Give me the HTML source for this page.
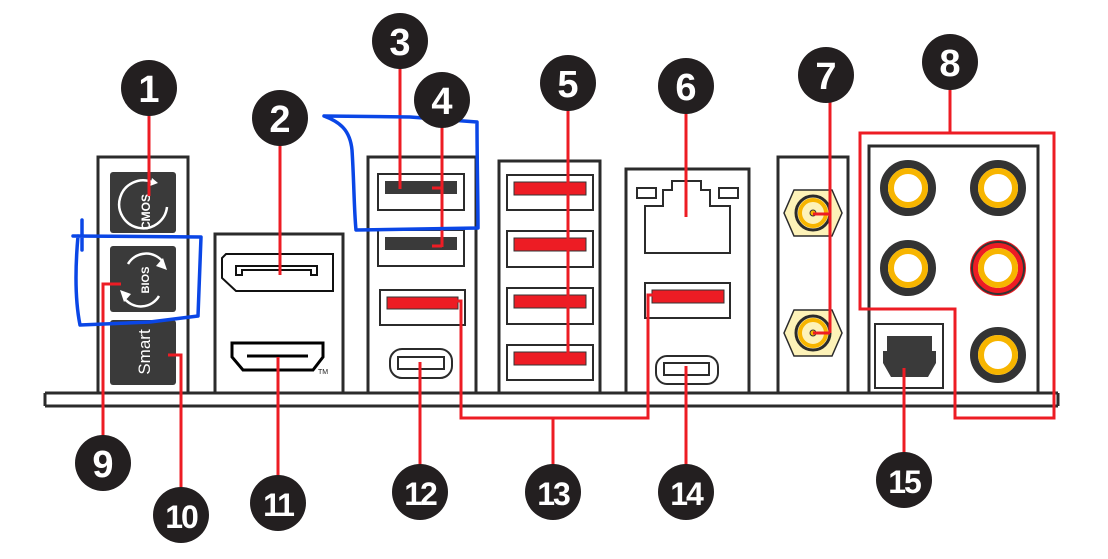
<!DOCTYPE html>
<html><head><style>body{margin:0;background:#fff}svg{display:block}</style></head><body>
<svg width="1108" height="559" viewBox="0 0 1108 559" xmlns="http://www.w3.org/2000/svg" font-family="Liberation Sans, sans-serif">
<g fill="none" stroke="#2b2b2b" stroke-width="3">
<!-- base bar -->
<path d="M45 393 H1058 M45 406 H1058 M45 393 V406 M1058 393 V406" stroke-width="3"/>
<!-- panels -->
<path d="M98 393 V157 H188 V393"/>
<path d="M215 393 V234 H343 V393"/>
<path d="M368 393 V157 H476 V393"/>
<path d="M499 393 V161 H600 V393"/>
<path d="M626 393 V169 H749 V393"/>
<path d="M778 393 V157 H848 V393"/>
<path d="M869 393 V146 H1038 V393"/>
</g>
<!-- panel 1 buttons -->
<rect x="110" y="172" width="66" height="61" rx="3" fill="#3a3a3a"/>
<rect x="110" y="246" width="66" height="66" rx="3" fill="#3a3a3a"/>
<rect x="110" y="320" width="66" height="65" rx="3" fill="#3a3a3a"/>
<g fill="none" stroke="#fff" stroke-width="2.5">
<path d="M152 182 A24 24 0 1 0 167 207"/>
<path d="M128 264 A21 21 0 0 1 163 262"/>
<path d="M159 296 A21 21 0 0 1 124 298"/>
</g>
<path d="M163 258 L167 270 L156 266Z M124 302 L120 290 L131 294Z M152 178 L158 183 L150 186Z" fill="#fff"/>
<text x="0" y="0" transform="translate(150,212) rotate(-90)" fill="#fff" font-size="12" font-weight="bold" text-anchor="middle">CMOS</text>
<text x="0" y="0" transform="translate(149,280) rotate(-90)" fill="#fff" font-size="11" font-weight="bold" text-anchor="middle">BIOS</text>
<text x="0" y="0" transform="translate(150,352) rotate(-90)" fill="#fff" font-size="17" text-anchor="middle">Smart</text>
<!-- panel 2 -->
<g fill="none" stroke="#111" stroke-width="2">
<path d="M226 254 H333 V291 H236 L222 278 V258Z"/>
<path d="M236 266 H317 V275 H311 V270 H242 V275 H236Z"/>
</g>
<path d="M232 343 H323 V357 L313 370 H243 L232 357Z" fill="none" stroke="#000" stroke-width="3"/>
<path d="M247 356 H308" stroke="#000" stroke-width="3"/>
<text x="318" y="374" font-size="7" fill="#222">TM</text>
<!-- panel 3 ports -->
<g fill="none" stroke="#2b2b2b" stroke-width="2">
<rect x="378" y="174" width="86" height="36"/>
<rect x="378" y="230" width="86" height="36"/>
<rect x="380" y="290" width="85" height="35"/>
<rect x="390" y="349" width="62" height="29" rx="12"/>
<rect x="398" y="357" width="46" height="12"/>
</g>
<rect x="385" y="181" width="72" height="13" fill="#3a3a3a"/>
<rect x="385" y="237" width="72" height="13" fill="#3a3a3a"/>
<rect x="387" y="297" width="71" height="12" fill="#ed1c24" stroke="#333" stroke-width="1"/>
<!-- panel 5 -->
<g fill="none" stroke="#2b2b2b" stroke-width="2">
<rect x="507" y="175" width="86" height="35"/>
<rect x="507" y="231" width="86" height="36"/>
<rect x="507" y="288" width="86" height="36"/>
<rect x="507" y="345" width="86" height="35"/>
</g>
<g fill="#ed1c24" stroke="#333" stroke-width="1">
<rect x="514" y="182" width="72" height="13"/>
<rect x="514" y="238" width="72" height="13"/>
<rect x="514" y="295" width="72" height="13"/>
<rect x="514" y="352" width="72" height="13"/>
</g>
<!-- panel 6 -->
<g fill="none" stroke="#2b2b2b" stroke-width="2">
<rect x="637" y="188" width="19" height="10"/>
<rect x="719" y="188" width="19" height="10"/>
<path d="M645 253 V206 H663 V190 H672 V181 H701 V190 H710 V206 H730 V253Z"/>
<rect x="645" y="283" width="85" height="35"/>
<rect x="656" y="356" width="62" height="28" rx="11"/>
<rect x="664" y="363" width="45" height="12"/>
</g>
<rect x="652" y="290" width="72" height="13" fill="#ed1c24" stroke="#333" stroke-width="1"/>
<!-- panel 7 SMA -->
<g stroke="#2b2b2b" stroke-width="1.5">
<path d="M784 213 L794 190 H832 L842 213 L832 236 H794Z" fill="#fdf2b8"/>
<path d="M784 333 L794 310 H832 L842 333 L832 356 H794Z" fill="#fdf2b8"/>
</g>
<g fill="none">
<circle cx="813" cy="213" r="17" stroke="#2b2b2b" stroke-width="3"/><circle cx="813" cy="213" r="13" stroke="#f7b500" stroke-width="4"/>
<circle cx="813" cy="333" r="17" stroke="#2b2b2b" stroke-width="3"/><circle cx="813" cy="333" r="13" stroke="#f7b500" stroke-width="4"/>
</g>
<circle cx="813" cy="213" r="3" fill="#f7b500" stroke="#333"/>
<circle cx="813" cy="333" r="3" fill="#f7b500" stroke="#333"/>
<!-- panel 8 jacks -->
<g fill="#fff" stroke-width="6">
<circle cx="908" cy="188" r="24" stroke="#333" stroke-width="8"/><circle cx="908" cy="188" r="17" stroke="#f7b500"/>
<circle cx="998" cy="188" r="24" stroke="#333" stroke-width="8"/><circle cx="998" cy="188" r="17" stroke="#f7b500"/>
<circle cx="908" cy="268" r="24" stroke="#333" stroke-width="8"/><circle cx="908" cy="268" r="17" stroke="#f7b500"/>
<circle cx="998" cy="268" r="24" stroke="#ed1c24" stroke-width="8"/><circle cx="998" cy="268" r="26" fill="none" stroke="#333" stroke-width="2"/><circle cx="998" cy="268" r="17" stroke="#f7b500"/>
<circle cx="998" cy="355" r="24" stroke="#333" stroke-width="8"/><circle cx="998" cy="355" r="17" stroke="#f7b500"/>
</g>
<rect x="875" y="324" width="68" height="64" fill="none" stroke="#2b2b2b" stroke-width="2"/>
<path d="M887 336 H932 V351 H936 V363 L928 377 H891 L883 363 V351 H887Z" fill="#3a3a3a"/>
<!-- red leader lines -->
<g fill="none" stroke="#ed1c24" stroke-width="3">
<path d="M149 110 V196"/>
<path d="M280 140 V275"/>
<path d="M400 62 V189"/>
<path d="M442 122 V247 M432 188 H442 M432 246 H442"/>
<path d="M568 105 V358 M552 189 H568 M552 246 H568 M552 302 H568 M552 358 H568"/>
<path d="M686 108 V217"/>
<path d="M830 97 V333 M813 214 H830 M813 333 H830"/>
<path d="M950 84 V133 M860 133 H1054 V418 H955 V309 H860Z"/>
<path d="M103 440 V284 H121"/>
<path d="M181 492 V355 H168"/>
<path d="M278 480 V357"/>
<path d="M420 470 V362"/>
<path d="M455 301 H461 V418 H648 V295 H657 M553 418 V470"/>
<path d="M686 470 V366"/>
<path d="M904 458 V368"/>
</g>
<!-- blue annotations -->
<g fill="none" stroke="#0a46e6" stroke-width="3.5" stroke-linecap="round" stroke-linejoin="round">
<path d="M324 116 C340 122 350 130 352 150 C354 180 354 210 356 230 L478 228 C478 200 477 160 477 122 L410 117 L324 116"/>
<path d="M73 236 L201 237 L198 316 L150 322 L80 325 C75 300 75 270 78 236 M82 220 L82 250"/>
</g>
<!-- number badges -->
<g fill="#231f20">
<circle cx="149" cy="88" r="28"/><circle cx="280" cy="118" r="28"/><circle cx="400" cy="41" r="28"/><circle cx="442" cy="100" r="28"/>
<circle cx="568" cy="83" r="28"/><circle cx="686" cy="86" r="28"/><circle cx="826" cy="75" r="28"/><circle cx="950" cy="62" r="28"/>
<circle cx="103" cy="463" r="28"/><circle cx="181" cy="515" r="28"/><circle cx="278" cy="503" r="28"/><circle cx="420" cy="492" r="28"/>
<circle cx="553" cy="492" r="28"/><circle cx="686" cy="492" r="28"/><circle cx="904" cy="480" r="28"/>
</g>
<g fill="#fff" font-weight="bold" font-size="38" text-anchor="middle">
<text x="149" y="102">1</text><text x="280" y="132">2</text><text x="400" y="55">3</text><text x="442" y="114">4</text>
<text x="568" y="97">5</text><text x="686" y="100">6</text><text x="826" y="89">7</text><text x="950" y="76">8</text>
<text x="103" y="477">9</text>
<text x="181" y="528" font-size="32" letter-spacing="-2">10</text><text x="278" y="516" font-size="32" letter-spacing="-2">11</text>
<text x="420" y="505" font-size="32" letter-spacing="-2">12</text><text x="553" y="505" font-size="32" letter-spacing="-2">13</text>
<text x="686" y="505" font-size="32" letter-spacing="-2">14</text><text x="904" y="493" font-size="32" letter-spacing="-2">15</text>
</g>
</svg>
</body></html>
